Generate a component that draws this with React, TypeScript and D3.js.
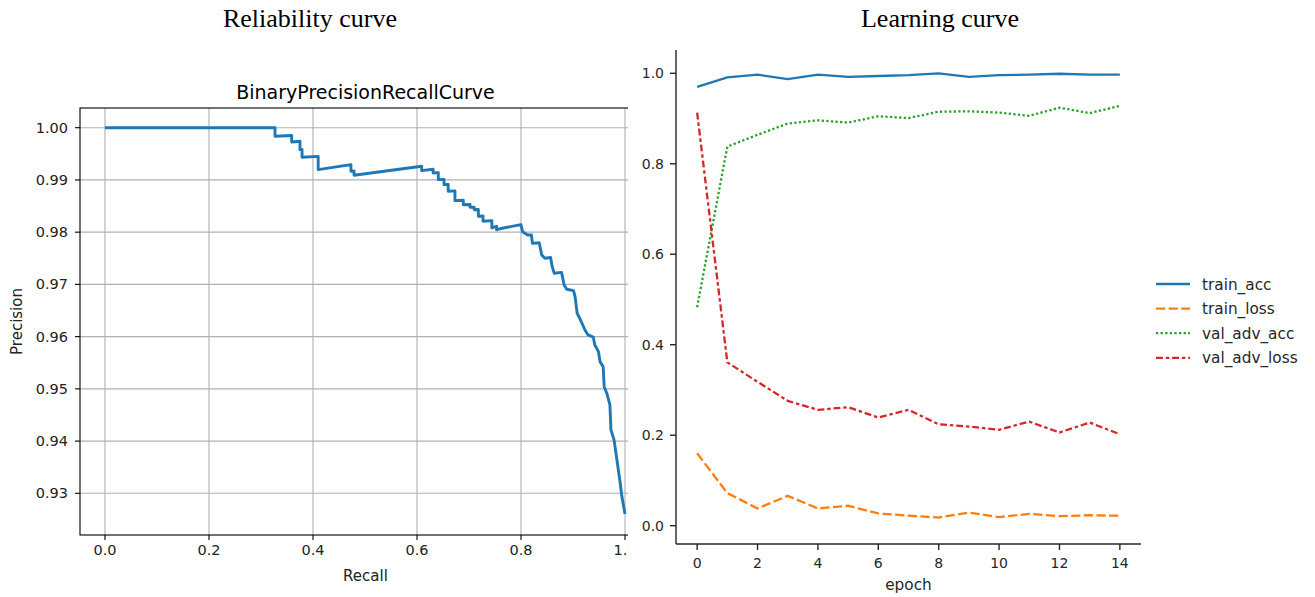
import * as d3 from "d3";

// precision-recall curve vertices (recall, precision)
const prRecall = [
  0.0, 0.327, 0.327, 0.359, 0.359, 0.375, 0.375, 0.379, 0.379, 0.41, 0.41, 0.473, 0.473, 0.479, 0.479,
  0.609, 0.609, 0.631, 0.631, 0.641, 0.641, 0.652, 0.652, 0.66, 0.66, 0.673, 0.673, 0.689, 0.689, 0.702,
  0.702, 0.71, 0.71, 0.718, 0.718, 0.727, 0.727, 0.744, 0.744, 0.753, 0.753, 0.766, 0.8, 0.803, 0.813,
  0.82, 0.822, 0.835, 0.84, 0.846, 0.857, 0.86, 0.864, 0.878, 0.883, 0.888, 0.901, 0.904, 0.908, 0.913,
  0.923, 0.929, 0.939, 0.942, 0.949, 0.952, 0.958, 0.96, 0.965, 0.971, 0.973, 0.979, 0.984, 0.99, 0.994, 1.0,
];
const prPrecision = [
  1.0, 1.0, 0.99835, 0.99851, 0.99726, 0.9974, 0.99579, 0.99585, 0.99433, 0.9945, 0.99196, 0.99292, 0.99165,
  0.9917, 0.99089, 0.99261, 0.99177, 0.99204, 0.99133, 0.9914, 0.99005, 0.9901, 0.98909, 0.98915, 0.98783,
  0.9879, 0.98603, 0.9861, 0.98526, 0.9853, 0.98476, 0.9848, 0.9843, 0.98435, 0.98304, 0.9831, 0.98208,
  0.9822, 0.9808, 0.98113, 0.98047, 0.9808, 0.98143, 0.98009, 0.97946, 0.97946, 0.97786, 0.97797, 0.9756,
  0.975, 0.97515, 0.97339, 0.97213, 0.9723, 0.96989, 0.96907, 0.9688, 0.96765, 0.96447, 0.96351, 0.96127,
  0.96032, 0.9599, 0.9584, 0.95712, 0.95521, 0.95425, 0.95042, 0.94916, 0.94692, 0.94213, 0.94022, 0.93672,
  0.93256, 0.92937, 0.92605,
];
const prXTicks = [0, 0.2, 0.4, 0.6, 0.8, 1.0];
const prYTicks = [0.93, 0.94, 0.95, 0.96, 0.97, 0.98, 0.99, 1.0];

// learning curve
const epochs = [0, 1, 2, 3, 4, 5, 6, 7, 8, 9, 10, 11, 12, 13, 14];
const trainAcc = [0.97, 0.991, 0.997, 0.987, 0.997, 0.992, 0.994, 0.996, 1.0, 0.992, 0.996, 0.997, 0.999, 0.997, 0.997];
const trainLoss = [0.16, 0.072, 0.038, 0.066, 0.038, 0.044, 0.027, 0.022, 0.018, 0.029, 0.019, 0.026, 0.021, 0.023, 0.022];
const valAdvAcc = [0.483, 0.838, 0.864, 0.889, 0.896, 0.891, 0.905, 0.901, 0.915, 0.916, 0.913, 0.906, 0.924, 0.912, 0.928];
const valAdvLoss = [0.913, 0.361, 0.318, 0.276, 0.256, 0.262, 0.239, 0.256, 0.224, 0.219, 0.212, 0.23, 0.206, 0.228, 0.202];
const lcXTicks = [0, 2, 4, 6, 8, 10, 12, 14];
const lcYTicks = [0.0, 0.2, 0.4, 0.6, 0.8, 1.0];

const LW = 2.3;
const series = [
  { name: "train_acc", values: trainAcc, color: "#1f77b4", dash: "" },
  { name: "train_loss", values: trainLoss, color: "#ff7f0e", dash: `${4 * LW},${1.5 * LW}` },
  { name: "val_adv_acc", values: valAdvAcc, color: "#2ca02c", dash: `${1 * LW},${1 * LW}` },
  { name: "val_adv_loss", values: valAdvLoss, color: "#d62728", dash: `${3 * LW},${1.25 * LW},${1.5 * LW},${1.25 * LW}` },
];

const FONT = "DejaVu Sans, sans-serif";
const DARK = "#262626";

export default function App() {
  // ---- left: PR curve
  const px = d3.scaleLinear().domain([-0.048, 1.05]).range([80, 651]);
  const py = d3.scaleLinear().domain([0.92202, 1.00377]).range([535, 108]);
  const prLine = d3
    .line<number>()
    .x((d) => px(d))
    .y((_, i) => py(prPrecision[i]));

  // ---- right: learning curve
  const lx = d3.scaleLinear().domain([-0.7, 14.7]).range([676, 1141]);
  const ly = d3.scaleLinear().domain([-0.0405, 1.0515]).range([544, 50]);
  const lcLine = d3
    .line<number>()
    .x((_, i) => lx(epochs[i]))
    .y((d) => ly(d));

  const [x0, x1] = px.range();
  const [y0, y1] = py.range();

  return (
    <svg
      width={1315}
      height={597}
      style={{ position: "absolute", left: 0, top: 0, background: "#fff" }}
      fontFamily={FONT}
    >
      <defs>
        <clipPath id="leftPanel">
          <rect x={0} y={0} width={628} height={597} />
        </clipPath>
        <clipPath id="prAxes">
          <rect x={x0} y={y1} width={x1 - x0} height={y0 - y1} />
        </clipPath>
      </defs>

      <text x={310} y={27} textAnchor="middle" fontFamily="Liberation Serif, serif" fontSize={26} fill="#000">
        Reliability curve
      </text>
      <text x={940} y={27} textAnchor="middle" fontFamily="Liberation Serif, serif" fontSize={26} fill="#000">
        Learning curve
      </text>

      <g clipPath="url(#leftPanel)">
        {prXTicks.map((t) => (
          <line key={"gx" + t} x1={px(t)} x2={px(t)} y1={y1} y2={y0} stroke="#b0b0b0" strokeWidth={1.1} />
        ))}
        {prYTicks.map((t) => (
          <line key={"gy" + t} x1={x0} x2={x1} y1={py(t)} y2={py(t)} stroke="#b0b0b0" strokeWidth={1.1} />
        ))}
        <path
          d={prLine(prRecall) ?? ""}
          fill="none"
          stroke="#1f77b4"
          strokeWidth={2.9}
          strokeLinejoin="round"
          clipPath="url(#prAxes)"
        />
        <rect x={x0} y={y1} width={x1 - x0} height={y0 - y1} fill="none" stroke="#000" strokeWidth={1.1} />
        {prXTicks.map((t) => (
          <g key={"tx" + t}>
            <line x1={px(t)} x2={px(t)} y1={y0} y2={y0 + 5} stroke="#000" strokeWidth={1.1} />
            <text x={px(t)} y={y0 + 20} textAnchor="middle" fontSize={14.5} fill="#222">
              {d3.format(".1f")(t)}
            </text>
          </g>
        ))}
        {prYTicks.map((t) => (
          <g key={"ty" + t}>
            <line x1={x0 - 5} x2={x0} y1={py(t)} y2={py(t)} stroke="#000" strokeWidth={1.1} />
            <text x={x0 - 12} y={py(t) + 5} textAnchor="end" fontSize={14.5} fill="#222">
              {d3.format(".2f")(t)}
            </text>
          </g>
        ))}
        <text x={(x0 + x1) / 2} y={99} textAnchor="middle" fontSize={19} fill="#000">
          BinaryPrecisionRecallCurve
        </text>
        <text x={(x0 + x1) / 2} y={581} textAnchor="middle" fontSize={15} fill="#222">
          Recall
        </text>
        <text transform={`translate(22,${(y0 + y1) / 2}) rotate(-90)`} textAnchor="middle" fontSize={15} fill="#222">
          Precision
        </text>
      </g>

      <g>
        {series.map((s) => (
          <path
            key={s.name}
            d={lcLine(s.values) ?? ""}
            fill="none"
            stroke={s.color}
            strokeWidth={LW}
            strokeDasharray={s.dash || undefined}
          />
        ))}
        <line x1={676} x2={676} y1={50} y2={544} stroke={DARK} strokeWidth={1.4} />
        <line x1={676} x2={1141} y1={544} y2={544} stroke={DARK} strokeWidth={1.4} />
        {lcXTicks.map((t) => (
          <g key={"lx" + t}>
            <line x1={lx(t)} x2={lx(t)} y1={544} y2={550} stroke={DARK} strokeWidth={1.4} />
            <text x={lx(t)} y={568} textAnchor="middle" fontSize={14} fill={DARK}>
              {t}
            </text>
          </g>
        ))}
        {lcYTicks.map((t) => (
          <g key={"ly" + t}>
            <line x1={670} x2={676} y1={ly(t)} y2={ly(t)} stroke={DARK} strokeWidth={1.4} />
            <text x={664} y={ly(t) + 5} textAnchor="end" fontSize={14} fill={DARK}>
              {d3.format(".1f")(t)}
            </text>
          </g>
        ))}
        <text x={(676 + 1141) / 2} y={590} textAnchor="middle" fontSize={15.3} fill={DARK}>
          epoch
        </text>
        {series.map((s, i) => (
          <g key={"lg" + s.name} transform={`translate(1156,${284 + i * 24.6})`}>
            <line x1={0} x2={34} y1={0} y2={0} stroke={s.color} strokeWidth={LW} strokeDasharray={s.dash || undefined} />
            <text x={46} y={5.5} fontSize={15.3} fill={DARK}>
              {s.name}
            </text>
          </g>
        ))}
      </g>
    </svg>
  );
}
